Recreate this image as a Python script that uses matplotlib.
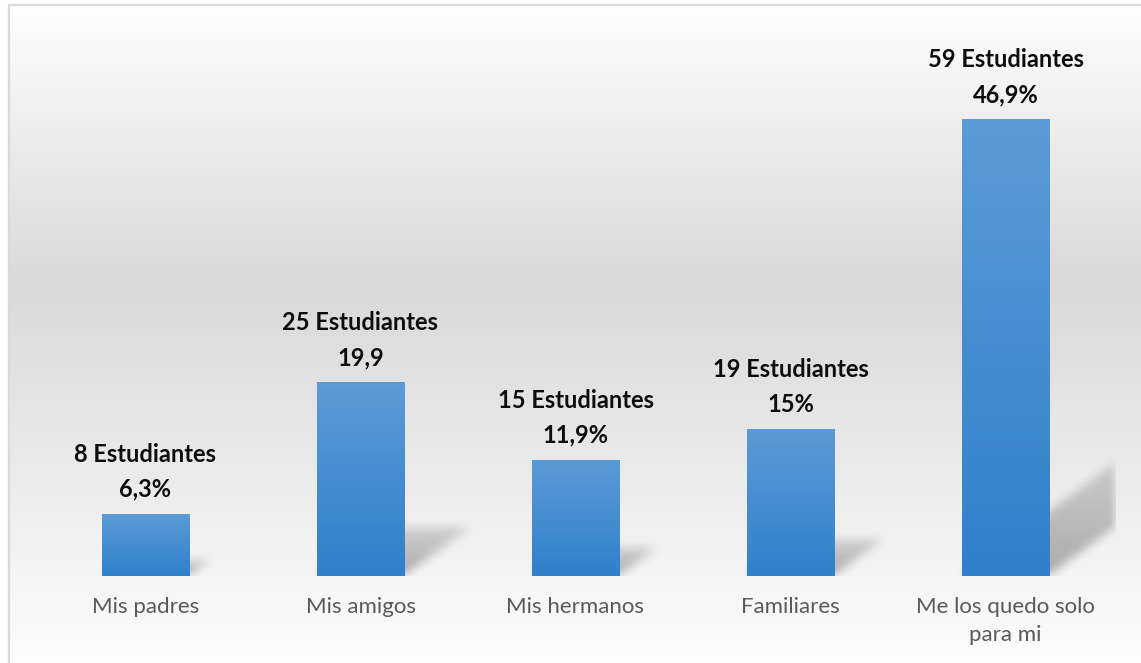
import numpy as np
import matplotlib.pyplot as plt
from matplotlib.colors import LinearSegmentedColormap

# Datos
categorias = ['Mis padres', 'Mis amigos', 'Mis hermanos', 'Familiares',
              'Me los quedo solo\npara mi']
estudiantes = [8, 25, 15, 19, 59]
etiquetas = ['8 Estudiantes\n6,3%', '25 Estudiantes\n19,9', '15 Estudiantes\n11,9%',
             '19 Estudiantes\n15%', '59 Estudiantes\n46,9%']

W, H = 1141, 663
fig = plt.figure(figsize=(W / 100, H / 100), dpi=100)

# fondo con degradado blanco -> gris -> blanco
bg = fig.add_axes([0, 0, 1, 1], zorder=0)
g = np.interp(np.arange(H), [0, 6, 283, 663], [255, 254, 217, 253]) / 255
img = np.repeat(np.repeat(g[:, None, None], W, axis=1), 3, axis=2)
img[:, :8] = 1
img[:4, :] = 1
bg.imshow(img, extent=(0, W, H, 0), aspect='auto', interpolation='bilinear')
bg.plot([8.5, 8.5, W + 5], [H + 5, 4.5, 4.5], color='#d9d9d9', lw=1.6)
bg.set_xlim(0, W)
bg.set_ylim(H, 0)
bg.axis('off')

# ejes principales (posiciones en pixeles de la imagen)
base, top, left, right = 576, 34, 38, 1116
ymax = 70
ax = fig.add_axes([left / W, (H - base) / H, (right - left) / W, (base - top) / H], zorder=1)
ax.patch.set_alpha(0)
px = 215.0
py = (base - top) / ymax
xlim = (-0.5, -0.5 + (right - left) / px)
ancho = 0.405


def suavizar(a, k):
    ker = np.ones(k) / k
    a = np.apply_along_axis(lambda r: np.convolve(r, ker, mode='same'), 1, a)
    a = np.apply_along_axis(lambda c: np.convolve(c, ker, mode='same'), 0, a)
    return a


# sombras inclinadas detras de las barras
nx, ny = right - left, base - top
X, Y = np.meshgrid(np.linspace(xlim[0], xlim[1], nx), np.linspace(ymax, 0, ny))
alpha = np.zeros_like(X)
for i, val in enumerate(estudiantes):
    xl, xr = i - ancho / 2, i + ancho / 2
    v = Y / 0.25
    x0 = X - 0.34 * v * py / px
    dentro = (x0 >= xl) & (x0 <= xr) & (v <= val)
    fade = 1 - 0.55 * np.clip(v / val, 0, 1)
    alpha = np.maximum(alpha, np.where(dentro, 0.3 * fade, 0))
alpha = suavizar(suavizar(alpha, 11), 11)
sombra = np.zeros((ny, nx, 4))
sombra[..., 3] = alpha
ax.imshow(sombra, extent=(xlim[0], xlim[1], 0, ymax), origin='upper', aspect='auto',
          zorder=1, interpolation='bilinear')

# barras con degradado
barras = ax.bar(range(len(estudiantes)), estudiantes, width=ancho, color='#4a8fd2',
                edgecolor='none', zorder=2)
cmap = LinearSegmentedColormap.from_list('azul', ['#3080cb', '#5b9bd6'])
grad = np.linspace(1, 0, 256)[:, None]
for p in barras:
    im = ax.imshow(grad, cmap=cmap, vmin=0, vmax=1, origin='upper', aspect='auto',
                   extent=(p.get_x(), p.get_x() + p.get_width(), 0, p.get_height()),
                   zorder=3, interpolation='bilinear')
    im.set_clip_path(p)

for p, txt in zip(barras, etiquetas):
    ax.annotate(txt, (p.get_x() + p.get_width() / 2, p.get_height()), xytext=(0, 9.5),
                textcoords='offset points', ha='center', va='bottom', fontsize=17,
                fontweight='bold', family='Lato', linespacing=1.62, color='#0d0d0d', zorder=4)

ax.set_xlim(*xlim)
ax.set_ylim(0, ymax)
ax.set_xticks(range(len(categorias)))
ax.set_xticklabels(categorias, fontsize=16, family='Lato', color='#595959', linespacing=1.52)
ax.tick_params(axis='x', length=0, pad=15)
ax.set_yticks([])
for s in ax.spines.values():
    s.set_visible(False)

fig.savefig('out.png', dpi=100)
